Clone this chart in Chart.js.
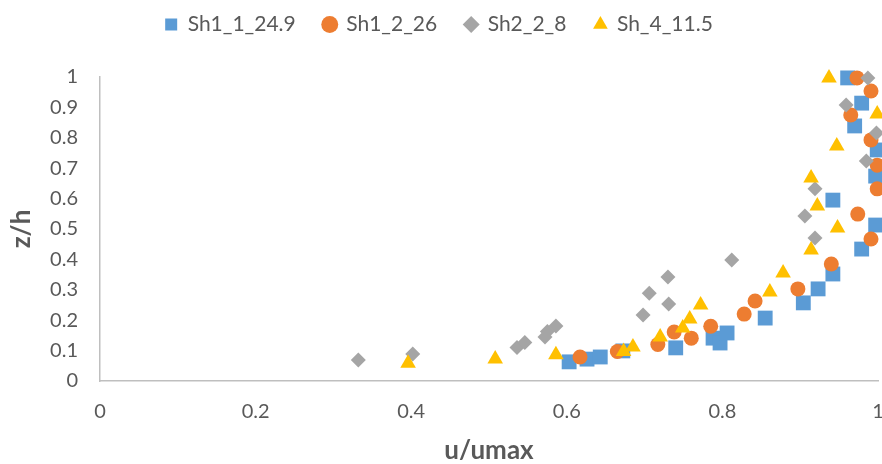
<!DOCTYPE html>
<html>
<head>
<meta charset="utf-8">
<script src="https://cdn.jsdelivr.net/npm/chart.js@4/dist/chart.umd.min.js"></script>
<style>
  body { margin: 0; background: #fff; }
  #wrap { width: 882px; height: 464px; }
</style>
</head>
<body>
<div id="wrap"><canvas id="chart" width="882" height="464"></canvas></div>
<script>
// values, as u/umax and z/h pairs
const seriesNames = ['Sh1_1_24.9', 'Sh1_2_26', 'Sh2_2_8', 'Sh_4_11.5'];

const sh1_1_u = [0.603, 0.626, 0.643, 0.672, 0.740, 0.788, 0.797, 0.806, 0.855, 0.904, 0.923, 0.942, 0.979, 0.997, 0.942, 0.997, 0.999, 0.970, 0.979, 0.961];
const sh1_1_z = [0.063, 0.072, 0.079, 0.099, 0.109, 0.141, 0.125, 0.158, 0.207, 0.257, 0.303, 0.352, 0.434, 0.513, 0.595, 0.674, 0.760, 0.839, 0.914, 0.997];

const sh1_2_u = [0.617, 0.665, 0.717, 0.738, 0.760, 0.785, 0.828, 0.842, 0.897, 0.940, 0.991, 0.974, 0.999, 0.999, 0.991, 0.965, 0.991, 0.973];
const sh1_2_z = [0.079, 0.097, 0.120, 0.161, 0.141, 0.180, 0.220, 0.263, 0.303, 0.385, 0.467, 0.549, 0.632, 0.710, 0.793, 0.875, 0.954, 0.997];

const sh2_2_u = [0.332, 0.402, 0.536, 0.546, 0.572, 0.575, 0.586, 0.698, 0.706, 0.731, 0.730, 0.812, 0.919, 0.906, 0.919, 0.985, 0.998, 0.959, 0.987];
const sh2_2_z = [0.069, 0.089, 0.110, 0.127, 0.145, 0.163, 0.181, 0.217, 0.289, 0.253, 0.342, 0.398, 0.470, 0.543, 0.632, 0.724, 0.816, 0.908, 0.997];

const sh4_u = [0.396, 0.508, 0.586, 0.673, 0.685, 0.720, 0.749, 0.758, 0.772, 0.861, 0.878, 0.914, 0.948, 0.922, 0.914, 0.947, 0.999, 0.937];
const sh4_z = [0.058, 0.072, 0.086, 0.097, 0.112, 0.145, 0.174, 0.204, 0.250, 0.293, 0.355, 0.431, 0.503, 0.576, 0.668, 0.773, 0.878, 0.997];

const xTicks = [0, 0.2, 0.4, 0.6, 0.8, 1];
const yTicks = [0, 0.1, 0.2, 0.3, 0.4, 0.5, 0.6, 0.7, 0.8, 0.9, 1];

const colors = ['#5B9BD5', '#ED7D31', '#A5A5A5', '#FFC000'];
const styles = ['rect', 'circle', 'rectRot', 'triangle'];
const radii = [10.5, 7.5, 7.5, 9];

function pairs(us, zs) {
  return us.map((u, i) => ({ x: u, y: zs[i] }));
}

const allData = [
  pairs(sh1_1_u, sh1_1_z),
  pairs(sh1_2_u, sh1_2_z),
  pairs(sh2_2_u, sh2_2_z),
  pairs(sh4_u, sh4_z)
];

// later series are painted on top, like the original
const datasets = allData.map((d, i) => ({
  label: seriesNames[i],
  data: d,
  backgroundColor: colors[i],
  borderColor: colors[i],
  borderWidth: 0,
  pointStyle: styles[i],
  pointRadius: radii[i],
  pointHoverRadius: radii[i],
  order: 3 - i,
  clip: false
}));

const grey = '#595959';
const font = 'Lato, "Liberation Sans", sans-serif';

// make the legend box taller so the plot starts lower
const legendHeight = {
  id: 'legendHeight',
  beforeInit(chart) {
    const fit = chart.legend.fit;
    chart.legend.fit = function () {
      fit.bind(chart.legend)();
      this.height = 91;
    };
  }
};

new Chart(document.getElementById('chart'), {
  type: 'scatter',
  data: { datasets: datasets },
  plugins: [legendHeight],
  options: {
    responsive: false,
    animation: false,
    layout: { autoPadding: false, padding: { left: 0, right: 4, top: -14, bottom: 0 } },
    plugins: {
      tooltip: { enabled: false },
      legend: {
        position: 'top',
        labels: {
          usePointStyle: true,
          boxWidth: 12,
          boxHeight: 12,
          color: grey,
          font: { family: font, size: 21 },
          padding: 28,
          sort: (a, b) => a.datasetIndex - b.datasetIndex
        }
      }
    },
    scales: {
      x: {
        type: 'linear',
        min: 0,
        max: 1,
        afterBuildTicks: (axis) => { axis.ticks = xTicks.map(v => ({ value: v })); },
        afterFit: (axis) => {
          axis.height = 83;
          axis.paddingLeft = 0;
          axis.paddingRight = 0;
        },
        grid: { display: false, drawTicks: false },
        border: { color: '#BFBFBF', width: 1.5 },
        ticks: { color: grey, font: { family: font, size: 20 }, padding: 19, callback: v => String(v) },
        title: { display: true, text: 'u/umax', color: grey, font: { family: font, size: 26, weight: 'bold', lineHeight: 1 }, padding: 0 }
      },
      y: {
        type: 'linear',
        min: 0,
        max: 1,
        afterBuildTicks: (axis) => { axis.ticks = yTicks.map(v => ({ value: v })); },
        afterFit: (axis) => { axis.width = 100; },
        grid: { display: false, drawTicks: false },
        border: { color: '#BFBFBF', width: 1.5 },
        ticks: { color: grey, font: { family: font, size: 20 }, padding: 22, callback: v => String(v) },
        title: { display: true, text: 'z/h', color: grey, font: { family: font, size: 26, weight: 'bold', lineHeight: 1 }, padding: 9 }
      }
    }
  }
});
</script>
</body>
</html>
